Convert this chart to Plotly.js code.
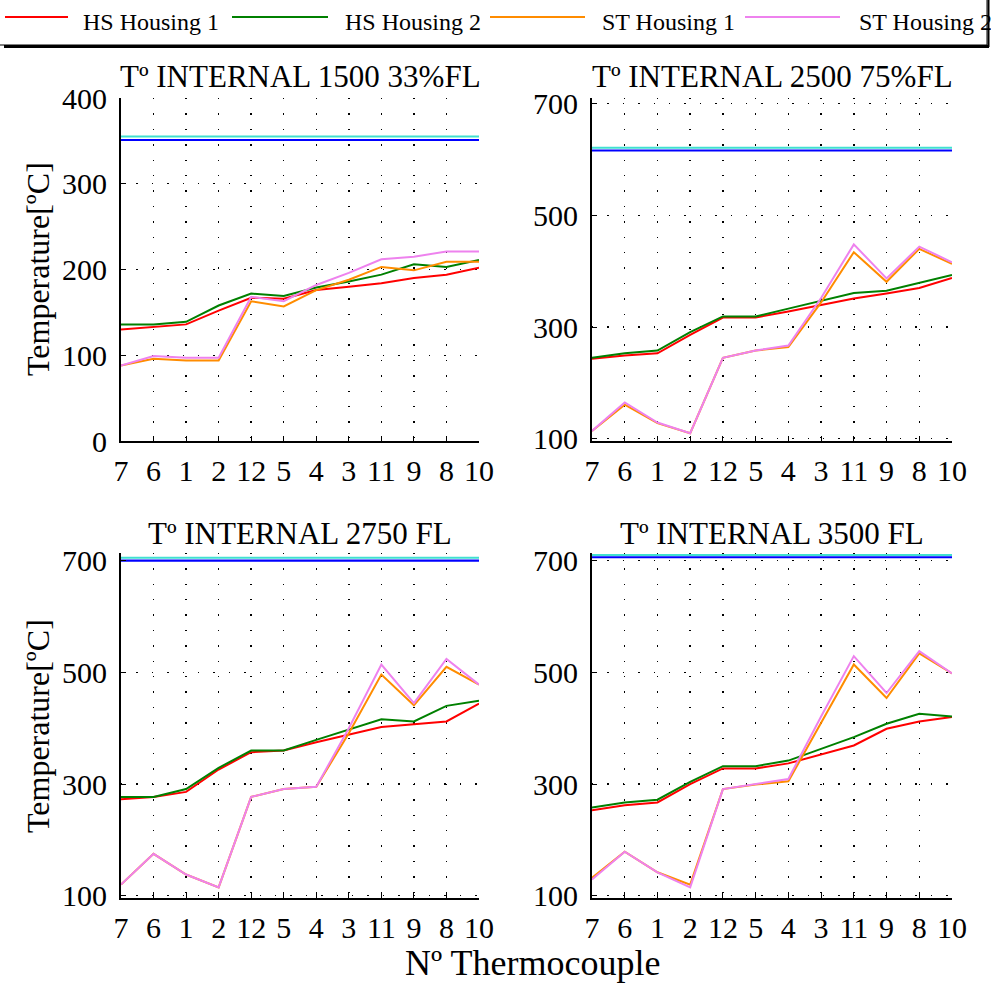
<!DOCTYPE html>
<html>
<head>
<meta charset="utf-8">
<script src="https://cdn.plot.ly/plotly-3.0.1.min.js"></script>
<style>html,body{margin:0;padding:0;background:#fff;}#chart{width:991px;height:984px;}</style>
</head>
<body>
<div id="chart"></div>
<script>
// ---- DATA ----
const thermocouples = ["7","6","1","2","12","5","4","3","11","9","8","10"];
const seriesNames = ["HS Housing 1","HS Housing 2","ST Housing 1","ST Housing 2"];
const panelTitles = ["Tº INTERNAL 1500 33%FL","Tº INTERNAL 2500 75%FL","Tº INTERNAL 2750 FL","Tº INTERNAL 3500 FL"];

// Panel 1: 1500 33%FL
const p1_hs1 = [130,133,136,152,167,166,176,180,184,190,194,202];
const p1_hs2 = [136,136,139,158,172,169,179,186,194,206,203,211];
const p1_st1 = [88,96,94,94,163,157,176,188,203,199,209,209];
const p1_st2 = [88,99,97,97,168,163,182,196,212,215,221,221];
// Panel 2: 2500 75%FL
const p2_hs1 = [243,249,253,286,317,317,328,339,351,360,370,388];
const p2_hs2 = [245,253,258,291,319,319,333,347,361,365,379,393];
const p2_st1 = [114,161,128,110,245,258,264,344,434,381,440,413];
const p2_st2 = [114,165,129,110,245,258,267,352,448,387,444,416];
// Panel 3: 2750 FL
const p3_hs1 = [273,277,286,326,357,360,375,388,402,407,412,444];
const p3_hs2 = [277,277,291,329,360,360,379,398,416,412,440,449];
const p3_st1 = [120,175,138,115,277,291,295,391,496,441,510,478];
const p3_st2 = [120,175,138,115,277,291,295,400,514,445,524,478];
// Panel 4: 3500 FL
const p4_hs1 = [253,262,267,300,328,328,337,353,369,399,412,420];
const p4_hs2 = [258,267,272,304,332,332,342,363,384,408,426,421];
const p4_st1 = [132,179,142,120,291,299,305,409,514,454,534,498];
const p4_st2 = [129,179,142,115,291,300,309,421,529,463,538,498];

// reference limit lines (cyan, blue) per panel
const limitCyan = [355,621,705,710];
const limitBlue = [351,616,700,706];

const yTicks1 = [0,100,200,300,400];
const yTicks2 = [100,300,500,700];

// ---- STYLE ----
const W = 991, H = 984;
const colors = ["#ff0000","#008000","#ff8c00","#ee82ee"];
const serif = "Liberation Serif, Times New Roman, serif";
const px = v => v / W;
const py = v => 1 - v / H;

const panels = [
  {data:[p1_hs1,p1_hs2,p1_st1,p1_st2], xd:[121,479], yd:[98,441], range:[0,400], ticks:yTicks1},
  {data:[p2_hs1,p2_hs2,p2_st1,p2_st2], xd:[592,952], yd:[98,441], range:[96,710], ticks:yTicks2},
  {data:[p3_hs1,p3_hs2,p3_st1,p3_st2], xd:[121,479], yd:[552.8,898], range:[96,714], ticks:yTicks2},
  {data:[p4_hs1,p4_hs2,p4_st1,p4_st2], xd:[592,952], yd:[552.8,898], range:[96,714], ticks:yTicks2}
];

const traces = [];
const layout = {
  width: W, height: H,
  margin: {l:0, r:0, t:0, b:0},
  paper_bgcolor: "#fff", plot_bgcolor: "#fff",
  showlegend: false,
  font: {family: serif, color: "#000"},
  annotations: [], shapes: []
};

panels.forEach((p, i) => {
  const n = i + 1;
  const xa = n === 1 ? "x" : "x" + n;
  const ya = n === 1 ? "y" : "y" + n;
  // limit lines
  traces.push({x: thermocouples, y: thermocouples.map(() => limitCyan[i]), xaxis: xa, yaxis: ya,
    mode: "lines", line: {color: "#40e0d0", width: 2}, hoverinfo: "skip"});
  traces.push({x: thermocouples, y: thermocouples.map(() => limitBlue[i]), xaxis: xa, yaxis: ya,
    mode: "lines", line: {color: "#0000ff", width: 2.2}, hoverinfo: "skip"});
  p.data.forEach((ys, k) => {
    traces.push({x: thermocouples, y: ys, xaxis: xa, yaxis: ya, name: seriesNames[k],
      mode: "lines", line: {color: colors[k], width: 2}});
  });
  const xName = n === 1 ? "xaxis" : "xaxis" + n;
  const yName = n === 1 ? "yaxis" : "yaxis" + n;
  layout[xName] = {
    domain: [px(p.xd[0]), px(p.xd[1])], anchor: ya, type: "category",
    range: [0, thermocouples.length - 1],
    tickmode: "array", tickvals: thermocouples, ticktext: thermocouples, tickangle: 0,
    showline: true, linecolor: "#000", linewidth: 2,
    ticks: "inside", ticklen: 5, tickcolor: "#000", tickwidth: 1,
    showgrid: true, gridcolor: "#000", gridwidth: 1.4, griddash: "1.4px,14px",
    tickfont: {family: serif, size: 30, color: "#000"}, ticklabelstandoff: 2,
    zeroline: false, fixedrange: true
  };
  layout[yName] = {
    domain: [py(p.yd[1]), py(p.yd[0])], anchor: xa,
    range: p.range, tickmode: "array", tickvals: p.ticks, ticktext: p.ticks.map(String),
    showline: true, linecolor: "#000", linewidth: 2,
    ticks: "inside", ticklen: 5, tickcolor: "#000", tickwidth: 1,
    showgrid: true, gridcolor: "#000", gridwidth: 1.4, griddash: "1.4px,14px",
    tickfont: {family: serif, size: 30, color: "#000"}, ticklabelstandoff: 6,
    zeroline: false, fixedrange: true
  };
  layout.annotations.push({
    text: panelTitles[i], xref: "paper", yref: "paper",
    x: px((p.xd[0] + p.xd[1]) / 2), y: py(Math.max(p.yd[0], 555) - 2), xanchor: "center", yanchor: "bottom",
    showarrow: false, font: {family: serif, size: 31, color: "#000"}
  });
});
// fix title offsets for top panels (domain top 98)
layout.annotations[0].y = py(96);
layout.annotations[1].y = py(96);

// axis titles
layout.annotations.push({text: "Temperature[ºC]", xref: "paper", yref: "paper", x: px(38), y: py(269),
  xanchor: "center", yanchor: "middle", textangle: -90, showarrow: false, font: {family: serif, size: 32, color: "#000"}});
layout.annotations.push({text: "Temperature[ºC]", xref: "paper", yref: "paper", x: px(38), y: py(726),
  xanchor: "center", yanchor: "middle", textangle: -90, showarrow: false, font: {family: serif, size: 32, color: "#000"}});
layout.annotations.push({text: "Nº Thermocouple", xref: "paper", yref: "paper", x: px(532), y: py(963),
  xanchor: "center", yanchor: "middle", showarrow: false, font: {family: serif, size: 36, color: "#000"}});

// manual legend box
layout.shapes.push({type: "rect", xref: "paper", yref: "paper", x0: px(-5), x1: px(987), y0: py(45), y1: py(-5),
  line: {color: "#000", width: 1}, fillcolor: "rgba(0,0,0,0)"});
layout.shapes.push({type: "line", xref: "paper", yref: "paper", x0: px(4), x1: px(989), y0: py(46.5), y1: py(46.5),
  line: {color: "#000", width: 3}});
layout.shapes.push({type: "line", xref: "paper", yref: "paper", x0: px(988.5), x1: px(988.5), y0: py(0), y1: py(47),
  line: {color: "#000", width: 2}});
const legX = [[5,68,81],[232,328,343],[490,585,600],[745,840,857]];
seriesNames.forEach((nm, k) => {
  layout.shapes.push({type: "line", xref: "paper", yref: "paper", x0: px(legX[k][0]), x1: px(legX[k][1]),
    y0: py(17), y1: py(17), line: {color: colors[k], width: 2}});
  layout.annotations.push({text: nm, xref: "paper", yref: "paper", x: px(legX[k][2]), y: py(22),
    xanchor: "left", yanchor: "middle", showarrow: false, font: {family: serif, size: 24, color: "#000"}});
});

Plotly.newPlot("chart", traces, layout, {staticPlot: true, displayModeBar: false});
</script>
</body>
</html>
